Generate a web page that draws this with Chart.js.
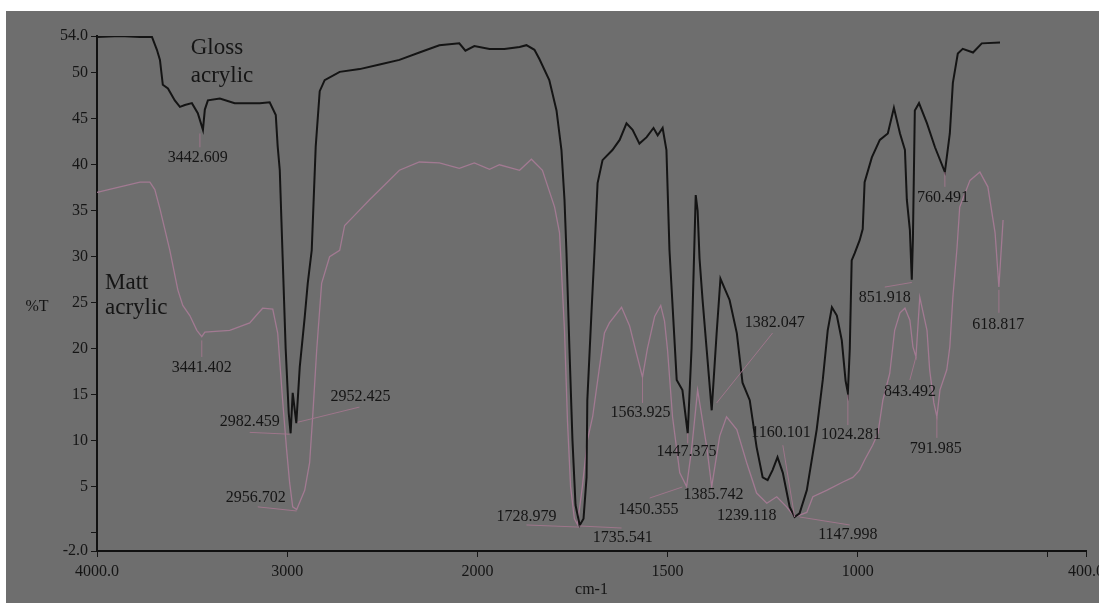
<!DOCTYPE html>
<html><head><meta charset="utf-8">
<script src="https://cdn.jsdelivr.net/npm/chart.js@4.4.1/dist/chart.umd.min.js"></script>
<style>
html,body{margin:0;padding:0;background:#ffffff;}
#wrap{position:absolute;left:6px;top:11px;width:1093px;height:592px;background:#6e6e6e;}
canvas{display:block;}
</style></head><body><div id="wrap"><canvas id="c" width="1093" height="592"></canvas></div>
<script>
// ---- data (wavenumber cm-1, %T) ----
const glossWavenumber = [4000,3879,3774,3711,3685,3669,3654,3627,3591,3564,3538,3501,3470,3443,3433,3417,3354,3276,3144,3092,3060,3050,3039,3024,3008,2992,2982,2971,2952,2934,2908,2892,2871,2850,2829,2803,2724,2619,2514,2410,2305,2200,2095,2063,2016,1968,1929,1889,1871,1850,1837,1811,1792,1779,1771,1766,1758,1750,1742,1731,1721,1713,1711,1700,1692,1684,1671,1645,1626,1608,1592,1574,1555,1537,1526,1513,1503,1495,1476,1461,1447,1437,1426,1421,1416,1408,1397,1384,1371,1361,1337,1318,1303,1284,1266,1250,1237,1224,1211,1197,1179,1166,1153,1134,1108,1092,1079,1068,1055,1042,1032,1026,1021,1016,1008,995,987,982,963,942,921,905,889,876,871,863,858,855,850,839,818,797,771,758,750,737,724,697,674,626];
const glossT = [53.9,54.0,53.9,53.9,52.5,51.4,48.7,48.3,47.0,46.3,46.5,46.7,45.6,43.8,46.0,47.0,47.2,46.7,46.7,46.8,45.4,42.0,39.4,30.0,20.0,13.0,10.8,15.2,11.9,18.0,23.4,27.1,30.7,42.0,48.0,49.2,50.1,50.4,50.9,51.4,52.2,53.0,53.2,52.4,52.9,52.6,52.6,52.8,53.0,52.5,51.5,49.2,45.9,41.6,36.2,30.7,20.0,10.0,3.0,0.8,1.5,6.0,14.4,24.0,30.7,38.0,40.5,41.6,42.7,44.5,43.8,42.3,43.0,44.0,43.2,44.0,41.6,30.7,16.6,15.5,10.8,20.0,36.7,35.0,29.8,25.3,19.8,13.3,21.7,27.6,25.3,21.7,16.3,14.4,9.3,6.0,5.7,6.8,8.2,6.5,2.8,1.7,2.1,4.6,11.2,16.6,22.0,24.5,23.6,20.9,16.5,15.2,20.0,29.6,30.4,31.8,33.0,38.1,40.8,42.7,43.4,46.2,43.4,41.6,36.2,32.9,27.5,32.0,45.9,46.7,44.5,41.9,39.2,43.4,48.9,52.1,52.6,52.2,53.2,53.3];

const mattWavenumber = [4000,3879,3774,3722,3696,3669,3617,3575,3549,3512,3475,3449,3433,3302,3197,3155,3129,3076,3050,3024,3003,2987,2971,2950,2908,2882,2866,2845,2819,2777,2724,2698,2646,2567,2488,2410,2305,2200,2095,2016,1968,1942,1889,1858,1829,1797,1784,1771,1763,1755,1745,1737,1724,1711,1697,1679,1666,1653,1621,1600,1582,1566,1553,1534,1518,1508,1500,1487,1468,1450,1437,1421,1397,1384,1363,1345,1318,1292,1266,1239,1213,1187,1166,1134,1118,1082,1039,1013,995,982,961,947,934,916,903,889,876,863,855,847,837,818,811,800,792,784,766,758,750,739,732,705,679,658,639,629,618];
const mattT = [37.0,37.6,38.1,38.1,37.3,35.2,30.7,26.4,24.7,23.6,22.0,21.3,21.8,22.0,22.8,23.8,24.4,24.3,21.7,14.4,9.0,5.4,2.8,2.5,4.6,7.6,12.6,19.8,27.1,30.0,30.7,33.4,34.5,36.2,37.8,39.4,40.3,40.2,39.6,40.2,39.5,40.0,39.4,40.6,39.4,35.4,32.6,22.0,12.0,5.0,1.5,0.9,5.0,10.0,12.6,18.0,21.7,22.8,24.5,22.5,19.5,16.9,20.0,23.5,24.7,23.0,19.8,12.6,6.5,5.0,9.0,15.5,9.3,5.0,10.5,12.6,11.2,7.6,4.3,3.2,3.9,2.8,1.7,2.2,3.9,4.6,5.5,6.0,6.8,7.9,9.5,10.8,14.4,17.3,22.0,23.9,24.4,23.1,20.2,19.1,25.6,22.0,17.7,14.1,12.6,15.5,17.7,20.2,25.6,31.0,35.4,38.3,39.2,37.6,32.6,26.7,34.0];

const xTickValues = [4000,3000,2000,1500,1000,500,400];
const xTickLabels = ["4000.0","3000","2000","1500","1000","","400.0"];
const yTickValues = [-2,0,5,10,15,20,25,30,35,40,45,50,54];
const yTickLabels = ["-2.0","","5","10","15","20","25","30","35","40","45","50","54.0"];

// peak annotations: [text, textW, textT, leaderFromW, leaderFromT, leaderToW, leaderToT]
const peakLabels = [
  ["3442.609",3470,40.8, 3459,43.4, 3459,41.9],
  ["3441.402",3449,17.9, 3449,20.9, 3449,19.1],
  ["2982.459",3197,12.0, 3197,10.9, 2987,10.7],
  ["2952.425",2614,14.8, 2945,12.0, 2620,13.65],
  ["2956.702",3165,3.76, 3155,2.8, 2950,2.35],
  ["1728.979",1871,1.7, 1871,0.83, 1732,0.6],
  ["1735.541",1618,-0.59, 1732,0.72, 1621,0.5],
  ["1563.925",1571,13.0, 1566,16.9, 1566,14.1],
  ["1447.375",1450,8.76, 1447,10.8, 1447,9.7],
  ["1450.355",1550,2.46, 1547,3.76, 1461,4.96],
  ["1385.742",1379,4.09, null,null,null,null],
  ["1382.047",1218,22.8, 1371,14.1, 1224,21.7],
  ["1239.118",1292,1.8, null,null,null,null],
  ["1160.101",1202,10.8, 1197,9.5, 1166,1.7],
  ["1024.281",1018,10.6, 1026,15.0, 1026,11.7],
  ["1147.998",1026,-0.26, 1153,1.7, 1021,0.83],
  ["851.918",929,25.5, 929,26.7, 858,27.2],
  ["843.492",863,15.3, 863,16.6, 847,19.1],
  ["791.985",795,9.1, 792,12.6, 792,10.3],
  ["760.491",776,36.4, 771,39.2, 771,37.6],
  ["618.817",631,22.6, 629,26.4, 629,23.9]
];
// series names: [line1, line2, leftW, topT, bottomT]
const seriesNotes = [
  ["Gloss","acrylic",3507,52.7,49.7],
  ["Matt","acrylic",3958,27.1,24.4]
];
const yAxisName = "%T";
const yAxisNameT = 24.6;
const xAxisName = "cm-1";

// split x axis: 4000-2000 compressed 2x relative to 2000-400
function toAxis(w){ return w > 2000 ? 2000 + (w - 2000) / 2 : w; }

const SERIF = '"Liberation Serif", "Times New Roman", serif';
const TEXT = '#151515';

const annotate = {
  id: 'annotate',
  afterDatasetsDraw(chart){
    const ctx = chart.ctx, xs = chart.scales.x, ys = chart.scales.y;
    const px = w => xs.getPixelForValue(toAxis(w));
    const py = t => ys.getPixelForValue(t);
    ctx.save();
    ctx.strokeStyle = 'rgba(160,118,140,0.95)';
    ctx.lineWidth = 1;
    peakLabels.forEach(p => {
      if (p[3] !== null) {
        ctx.beginPath();
        ctx.moveTo(px(p[3]), py(p[4]));
        ctx.lineTo(px(p[5]), py(p[6]));
        ctx.stroke();
      }
    });
    ctx.fillStyle = TEXT;
    ctx.font = '16px ' + SERIF;
    ctx.textAlign = 'center';
    ctx.textBaseline = 'middle';
    peakLabels.forEach(p => { ctx.fillText(p[0], px(p[1]), py(p[2])); });
    ctx.font = '23px ' + SERIF;
    ctx.textAlign = 'left';
    seriesNotes.forEach(s => {
      ctx.fillText(s[0], px(s[2]), py(s[3]));
      ctx.fillText(s[1], px(s[2]), py(s[4]));
    });
    ctx.font = '16px ' + SERIF;
    ctx.textAlign = 'center';
    ctx.fillText(yAxisName, chart.chartArea.left - 60, py(yAxisNameT));
    ctx.restore();
  }
};

new Chart(document.getElementById('c'), {
  type: 'line',
  data: {
    datasets: [
      {
        label: 'Gloss acrylic',
        data: glossWavenumber.map((w, i) => ({x: toAxis(w), y: glossT[i]})),
        borderColor: '#141414', borderWidth: 2, pointRadius: 0, tension: 0, fill: false
      },
      {
        label: 'Matt acrylic',
        data: mattWavenumber.map((w, i) => ({x: toAxis(w), y: mattT[i]})),
        borderColor: '#a27a92', borderWidth: 1.3, pointRadius: 0, tension: 0, fill: false
      }
    ]
  },
  options: {
    responsive: false,
    animation: false,
    devicePixelRatio: 1,
    layout: { padding: { top: 25, right: 13, bottom: 0, left: 0 } },
    plugins: { legend: { display: false }, tooltip: { enabled: false } },
    scales: {
      x: {
        type: 'linear', reverse: true, min: toAxis(400), max: toAxis(4000),
        afterBuildTicks: s => { s.ticks = xTickValues.map(w => ({ value: toAxis(w) })); },
        afterFit: s => { s.height = 52; s.paddingRight = 0; s.paddingLeft = 0; },
        ticks: {
          autoSkip: false, maxRotation: 0, padding: 5, color: TEXT,
          font: { family: SERIF, size: 16 },
          callback: (v, i) => xTickLabels[i]
        },
        grid: { display: true, drawOnChartArea: false, drawTicks: true, tickLength: 6, color: '#151515', lineWidth: 1 },
        border: { display: true, color: '#111111', width: 2 },
        title: { display: true, text: xAxisName, color: TEXT, font: { family: SERIF, size: 16 }, padding: { top: 0, bottom: 4 } }
      },
      y: {
        type: 'linear', min: -2, max: 54,
        afterBuildTicks: s => { s.ticks = yTickValues.map(v => ({ value: v })); },
        afterFit: s => { s.width = 91; },
        ticks: {
          autoSkip: false, padding: 3, color: TEXT,
          font: { family: SERIF, size: 16 },
          callback: (v, i) => yTickLabels[i]
        },
        grid: { display: true, drawOnChartArea: false, drawTicks: true, tickLength: 6, color: '#151515', lineWidth: 1 },
        border: { display: true, color: '#111111', width: 2 }
      }
    }
  },
  plugins: [annotate]
});
</script>
</body></html>
